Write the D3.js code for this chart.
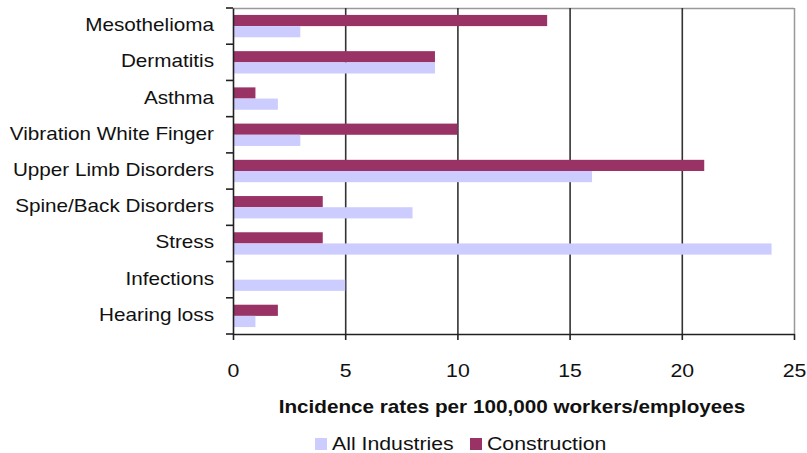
<!DOCTYPE html>
<html><head><meta charset="utf-8">
<script src="https://cdn.jsdelivr.net/npm/d3@7/dist/d3.min.js"></script>
<style>body{margin:0;background:#fff}svg{display:block;font-family:"Liberation Sans",Arial,sans-serif}</style>
</head><body><svg id="c" width="807" height="453"></svg>
<script>
const categories=["Mesothelioma","Dermatitis","Asthma","Vibration White Finger","Upper Limb Disorders","Spine/Back Disorders","Stress","Infections","Hearing loss"];
const construction=[14,9,1,10,21,4,4,0,2];
const allIndustries=[3,9,2,3,16,8,24,5,1];
const xTicks=[0,5,10,15,20,25];
const seriesNames=["All Industries","Construction"];
const colors={"All Industries":"#CCCCFF","Construction":"#993366"};

const SX=1.15; // horizontal stretch of the text in the reference
const svg=d3.select("#c");
const L=233,R=794,T=8,B=334;
const x=d3.scaleLinear().domain([0,25]).range([L,R]);
const y=d3.scaleBand().domain(categories).range([T,B]);
const inner=d3.scaleBand().domain(["Construction","All Industries"]).range([0,y.bandwidth()]).paddingInner(0).paddingOuter(0.62);

function stretch(sel){
  sel.each(function(){
    const t=d3.select(this);
    const tx=+t.attr("x")||0, ty=+t.attr("y")||0;
    t.attr("x",0).attr("y",0).attr("transform",`translate(${tx},${ty}) scale(${SX},1)`);
  });
}

// plot border (top/right)
svg.append("line").attr("x1",L).attr("x2",R).attr("y1",T+0.5).attr("y2",T+0.5).attr("stroke","#999").attr("stroke-width",1.5);
svg.append("line").attr("x1",R+0.5).attr("x2",R+0.5).attr("y1",T).attr("y2",B).attr("stroke","#999").attr("stroke-width",1.5);
// gridlines
svg.append("g").selectAll("line").data(xTicks.slice(1,-1)).join("line")
 .attr("x1",d=>x(d)+0.5).attr("x2",d=>x(d)+0.5).attr("y1",T).attr("y2",B).attr("stroke","#333").attr("stroke-width",1.6);

const rows=categories.map((c,i)=>({c,vals:[{s:"Construction",v:construction[i]},{s:"All Industries",v:allIndustries[i]}]}));
const g=svg.append("g");
rows.forEach(r=>{
 g.selectAll(null).data(r.vals).join("rect")
  .attr("x",x(0)).attr("y",d=>y(r.c)+inner(d.s)).attr("height",inner.bandwidth())
  .attr("width",d=>x(d.v)-x(0)).attr("fill",d=>colors[d.s]);
});

// x axis
const xa=svg.append("g").attr("transform",`translate(0,${B})`)
 .call(d3.axisBottom(x).tickValues(xTicks).tickSize(6).tickPadding(24).tickSizeOuter(0));
xa.select(".domain").attr("stroke","#222").attr("stroke-width",1.6);
xa.selectAll(".tick line").attr("stroke","#222").attr("stroke-width",1.6);
xa.selectAll("text").attr("dy",null).attr("font-size",18.5).attr("fill","#111").attr("font-family","'Liberation Sans',Arial,sans-serif").attr("y",43).call(stretch);
// y axis
const ya=svg.append("g").attr("transform",`translate(${L},0)`)
 .call(d3.axisLeft(y).tickSize(0).tickPadding(19).tickSizeOuter(0));
ya.select(".domain").attr("stroke","#222").attr("stroke-width",1.6);
ya.selectAll("text").attr("font-size",18).attr("fill","#111").attr("font-family","'Liberation Sans',Arial,sans-serif").attr("dy","0.28em").call(stretch);
// y category boundary ticks
const bounds=d3.range(categories.length+1).map(i=>T+i*y.step());
svg.append("g").selectAll("line").data(bounds).join("line")
 .attr("x1",L-7).attr("x2",L).attr("y1",d=>d).attr("y2",d=>d).attr("stroke","#222").attr("stroke-width",1.6);

svg.append("text").attr("x",512).attr("y",413).attr("text-anchor","middle")
 .attr("font-size",18).attr("font-weight","bold").attr("fill","#111").text("Incidence rates per 100,000 workers/employees").call(stretch);

// legend
const leg=[{s:"All Industries",x:315},{s:"Construction",x:470}];
leg.forEach(l=>{
 svg.append("rect").attr("x",l.x).attr("y",438).attr("width",12).attr("height",12).attr("fill",colors[l.s]);
 svg.append("text").attr("x",l.x+17).attr("y",450).attr("font-size",18.5).attr("fill","#111").text(l.s).call(stretch);
});
</script></body></html>
